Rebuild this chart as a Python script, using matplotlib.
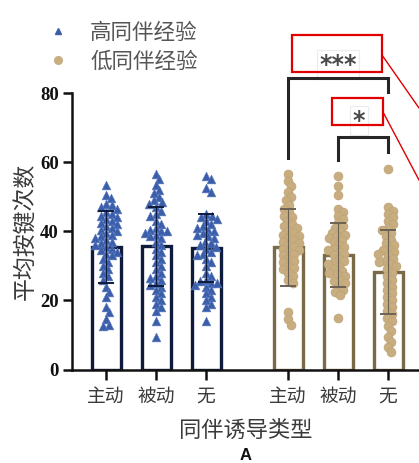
import numpy as np
import matplotlib
matplotlib.use("Agg")
import matplotlib.pyplot as plt
from matplotlib.lines import Line2D
from matplotlib.patches import Rectangle

# ---- data -------------------------------------------------------------
groups = ["高同伴经验", "低同伴经验"]
induction_types = ["主动", "被动", "无"]

high_active = [53.5, 50.5, 49.5, 48, 47.5, 47, 46.5, 45.5, 45, 44.5, 44, 43.5, 43,
               42.5, 42, 41.5, 41, 40.5, 40, 39.5, 39, 38.5, 38, 37.5, 37, 36.5, 36,
               35.5, 35, 34.5, 34, 33.5, 33, 32, 31, 30, 29, 28, 27, 26, 24, 22.5,
               21, 18, 16.5, 14.5, 13, 12.5]
high_passive = [56.5, 55, 53.5, 52, 51, 50, 49, 48.5, 48, 47, 46, 45, 44.5, 43, 42,
                41, 40.5, 40, 40, 39.5, 39, 38.5, 38, 37, 36, 35, 34, 33, 32, 31, 30,
                29, 28, 27, 26.5, 26, 25, 24.5, 24, 23, 22, 21, 20, 19, 18, 17, 14, 9.5]
high_none = [56, 55, 52.5, 51.5, 45, 44.5, 44, 43.5, 43, 42, 41.5, 41, 40.5, 40,
             39.5, 39, 38.5, 38, 37, 36.5, 36, 35.5, 35, 34, 33.5, 33, 32, 31, 30, 28,
             27, 26, 25.5, 25, 25, 24.5, 24, 23, 22, 21, 20, 19, 18, 14]
low_active = [56.5, 54.5, 53, 51.5, 50, 49, 47.5, 46.5, 45.5, 44.5, 44, 43, 42, 41.5,
              41, 40, 39.5, 39, 38.5, 38, 37.5, 37, 36.5, 36, 35.5, 35, 34.5, 34,
              33.5, 33, 32, 31.5, 31, 30, 29.5, 29, 28, 27, 26, 25, 16.5, 14.5, 13]
low_passive = [56, 53, 50.5, 46.5, 45.5, 44.5, 43.5, 42.5, 41.5, 41, 40, 39.5, 39,
               38.5, 38, 37.5, 37, 36, 35.5, 35, 34.5, 34, 33.5, 33, 32, 31.5, 31,
               30.5, 30, 29, 28.5, 28, 27.5, 27, 26, 25.5, 25, 24, 23, 22.5, 21.5, 15]
low_none = [58, 47, 46, 45, 44, 43, 42, 41, 40.5, 39.5, 38.5, 37.5, 36.5, 36, 35,
            34.5, 34, 33.5, 33, 32, 31.5, 31, 30.5, 30, 29, 28, 27, 26, 25, 24, 23,
            22, 21, 20, 19, 18, 17, 16, 15, 14, 12.5, 11, 9.5, 8, 6.5, 5]

high_means = [35.5, 35.6, 35.2]
low_means = [35.3, 33.2, 28.3]
high_sd = [10.5, 11.5, 9.8]
low_sd = [11.2, 9.2, 12.2]

sig_labels = ["***", "*"]

# ---- style ------------------------------------------------------------
cjk = ["Noto Sans CJK SC", "DejaVu Sans"]
blue_pt, blue_edge = "#3b5eaa", "#0f1b3c"
tan_pt, tan_edge = "#c8ad80", "#7b6a48"
text_col = "#3a3a3a"

W, H, DPI = 419, 463, 100
fig = plt.figure(figsize=(W / DPI, H / DPI), dpi=DPI)

ax_left, ax_right, ax_top, ax_bot = 72, 419, 93, 369.5
ax = fig.add_axes([ax_left / W, 1 - ax_bot / H, (ax_right - ax_left) / W,
                   (ax_bot - ax_top) / H])

pos_high = np.array([0.0, 1.0, 2.0])
pos_low = pos_high + 3.64
xmin, xmax = -0.68, 6.26
ax.set_xlim(xmin, xmax)
ax.set_ylim(0, 80)

px_x = (ax_right - ax_left) / (xmax - xmin)   # pixels per x unit
px_y = (ax_bot - ax_top) / 80.0                # pixels per y unit


def swarm_offsets(vals, diam):
    """Simple beeswarm: offsets (in x data units) that keep markers apart."""
    ys = np.asarray(vals, float) * px_y
    order = np.argsort(-ys)
    placed = []
    offs = np.zeros(len(ys))
    for i in order:
        y = ys[i]
        cands = [0.0]
        for (px, py) in placed:
            dy = y - py
            if abs(dy) < diam:
                dx = np.sqrt(diam ** 2 - dy ** 2)
                cands += [px + dx, px - dx]
        cands.sort(key=abs)
        for c in cands:
            if all((c - px) ** 2 + (y - py) ** 2 >= diam ** 2 - 1e-6
                   for (px, py) in placed):
                break
        placed.append((c, y))
        offs[i] = c
    return offs / px_x


bar_w = 0.58
ax.bar(pos_high, high_means, width=bar_w, facecolor="white",
       edgecolor=blue_edge, linewidth=2.4, zorder=2)
ax.bar(pos_low, low_means, width=bar_w, facecolor="white",
       edgecolor=tan_edge, linewidth=2.4, zorder=2)

high_data = [high_active, high_passive, high_none]
low_data = [low_active, low_passive, low_none]
for k, (p, vals) in enumerate(zip(pos_high, high_data)):
    off = swarm_offsets(vals, 6.0)
    ax.scatter(p + off, vals, marker="^", s=40, color=blue_pt,
               edgecolors="#5d7cc0", linewidths=0.4, zorder=3)
for k, (p, vals) in enumerate(zip(pos_low, low_data)):
    off = swarm_offsets(vals, 6.0)
    ax.scatter(p + off, vals, marker="o", s=42, color=tan_pt,
               edgecolors="#bca172", linewidths=0.4, zorder=3)

ax.errorbar(pos_high, high_means, yerr=high_sd, fmt="none", ecolor=blue_edge,
            elinewidth=0.8, capsize=5.5, capthick=1.4, zorder=4)
ax.errorbar(pos_low, low_means, yerr=low_sd, fmt="none", ecolor="#6b6256",
            elinewidth=0.8, capsize=5.5, capthick=1.4, zorder=4)

# significance brackets
bk = dict(color="#262626", lw=2.2, clip_on=False, zorder=5,
          solid_joinstyle="miter")
ax.plot([pos_low[0], pos_low[0], pos_low[2], pos_low[2]],
        [61.3, 84.2, 84.2, 80.2], **bk)
ax.plot([pos_low[1], pos_low[1], pos_low[2], pos_low[2]],
        [60.7, 67.4, 67.4, 63.0], **bk)
star_kw = dict(ha="center", va="center", fontsize=17, color="#4a4a4a",
               clip_on=False, family="DejaVu Sans", fontweight="bold")
ax.text((pos_low[0] + pos_low[2]) / 2, 88.2, sig_labels[0],
        bbox=dict(boxstyle="square,pad=0.1", fc="none", ec="#ececec", lw=0.8),
        **star_kw)
ax.text(pos_low[1] + 0.42, 72.0, sig_labels[1],
        bbox=dict(boxstyle="square,pad=0.1", fc="none", ec="#ececec", lw=0.8),
        **star_kw)

# axes styling
for s in ["top", "right"]:
    ax.spines[s].set_visible(False)
for s in ["left", "bottom"]:
    ax.spines[s].set_linewidth(1.8)
    ax.spines[s].set_color("#111111")

ax.set_yticks([0, 20, 40, 60, 80])
ax.tick_params(axis="y", length=6.5, width=1.8, pad=3, labelsize=13.5,
               colors="#111111")
for lab in ax.get_yticklabels():
    lab.set_family("Liberation Serif")
    lab.set_fontweight("bold")

ax.set_xticks(np.concatenate([pos_high, pos_low]))
ax.set_xticklabels(induction_types * 2, family=cjk, fontsize=13.5,
                   color=text_col)
ax.tick_params(axis="x", length=7, width=1.8, pad=4.5, colors="#111111",
               labelcolor=text_col)

ax.set_ylabel("平均按键次数", family=cjk, fontsize=16.5, color=text_col,
              labelpad=2)
ax.set_xlabel("同伴诱导类型", family=cjk, fontsize=16, color=text_col,
              labelpad=9)
fig.text(((ax_left + ax_right) / 2) / W, 1 - 455 / H, "A",
         family="Liberation Sans", fontweight="bold", fontsize=12,
         ha="center", va="center", color="#111111")

# legend
handles = [Line2D([], [], marker="^", ls="none", color=blue_pt, markersize=5),
           Line2D([], [], marker="o", ls="none", color=tan_pt, markersize=5.5)]
fig.legend(handles, groups, loc="upper left",
           bbox_to_anchor=(47 / W, 1 - 22 / H), frameon=False,
           prop=dict(family=cjk, size=15.5), labelcolor="#555555",
           handlelength=1.0, handletextpad=1.0, labelspacing=0.3,
           borderpad=0, borderaxespad=0)

# red call-out boxes and lines
def fx(px):
    return px / W


def fy(py):
    return 1 - py / H


red = "#e00000"
for (x0, y0, x1, y1) in [(292, 35.5, 382, 71.5), (332, 98, 383, 125)]:
    fig.add_artist(Rectangle((fx(x0), fy(y1)), fx(x1) - fx(x0), fy(y0) - fy(y1),
                             transform=fig.transFigure, fill=False,
                             ec=red, lw=1.6))
fig.add_artist(Line2D([fx(383), fx(419)], [fy(56.5), fy(108)],
                      transform=fig.transFigure, color=red, lw=1.0))
fig.add_artist(Line2D([fx(383), fx(419)], [fy(112), fy(180)],
                      transform=fig.transFigure, color=red, lw=1.0))

fig.savefig("out.png", dpi=DPI)
